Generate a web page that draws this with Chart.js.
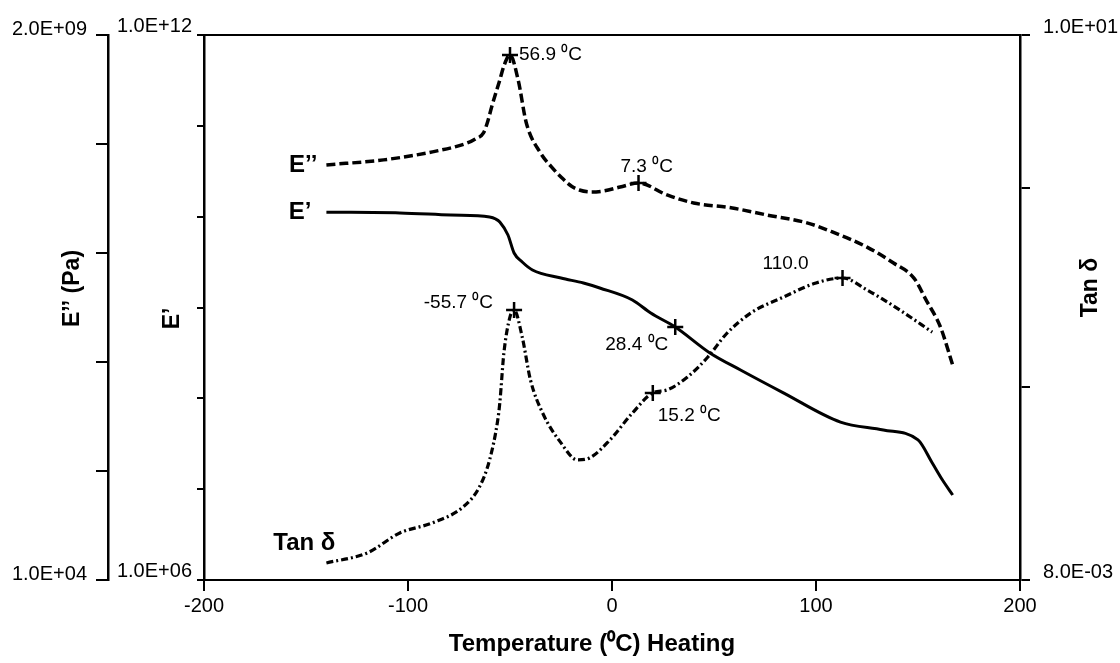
<!DOCTYPE html>
<html>
<head>
<meta charset="utf-8">
<script src="https://cdn.jsdelivr.net/npm/chart.js@4/dist/chart.umd.min.js"></script>
<style>
  html, body { margin: 0; padding: 0; background: #fff; }
  canvas { display: block; }
</style>
</head>
<body>
<canvas id="graficoDMA" width="1120" height="663"></canvas>
<script>
// === Datos (temperatura en °C) ===
// E'' (módulo de pérdida, eje exterior izquierdo)
const eppTemp = [-140, -112, -88, -71, -67, -63, -61, -59, -55, -53, -50, -46, -42, -35, -30, -25, -20, -16, -10, -4, 4, 13, 27, 40, 59, 76, 96, 108, 125, 138, 148, 154, 161, 167];
const eppVal  = [1.09e8, 1.22e8, 1.46e8, 1.78e8, 1.95e8, 2.23e8, 2.85e8, 3.99e8, 7.30e8, 1.0e9, 1.28e9, 7.30e8, 2.79e8, 1.42e8, 1.06e8, 8.32e7, 6.80e7, 6.21e7, 5.94e7, 6.08e7, 6.64e7, 7.26e7, 5.56e7, 4.65e7, 4.15e7, 3.55e7, 2.96e7, 2.43e7, 1.73e7, 1.21e7, 8.65e6, 5.28e6, 2.89e6, 1.23e6];

// E' (módulo de almacenamiento, eje interior izquierdo)
const epTemp = [-140, -104, -79, -60, -57, -55, -51, -48, -44, -39, -25, -14, -6, 10, 19, 31, 48, 63, 84, 112, 133, 150, 157, 162, 167];
const epVal  = [1.12e10, 1.10e10, 1.04e10, 9.91e9, 9.42e9, 8.73e9, 6.28e9, 3.98e9, 3.17e9, 2.59e9, 2.11e9, 1.86e9, 1.64e9, 1.21e9, 8.69e8, 6.10e8, 3.16e8, 2.05e8, 1.15e8, 5.48e7, 4.48e7, 3.48e7, 1.94e7, 1.26e7, 8.63e6];

// Tan delta (eje derecho)
const tanTemp = [-140, -120, -104, -88, -73, -65, -60, -56, -55, -53, -50, -48, -44, -40, -34, -25, -17, -11, -1, 10, 20, 27, 37, 47, 56, 68, 84, 100, 113, 125, 141, 157];
const tanVal  = [1.00e-2, 1.14e-2, 1.48e-2, 1.69e-2, 2.08e-2, 2.70e-2, 3.85e-2, 6.49e-2, 8.11e-2, 0.156, 0.250, 0.274, 0.192, 0.110, 7.11e-2, 4.81e-2, 3.85e-2, 3.95e-2, 5.00e-2, 7.11e-2, 9.25e-2, 9.62e-2, 0.114, 0.148, 0.200, 0.263, 0.324, 0.390, 0.416, 0.356, 0.274, 0.205];

// Temperaturas marcadas con "+"
const eppMarks = [-50, 13];
const epMarks  = [31];
const tanMarks = [-48, 20, 113];

// Ticks de los ejes
const xTicks = [-200, -100, 0, 100, 200];
const eppTicks = [1e4, 1.149e5, 1.32e6, 1.516e7, 1.741e8, 2e9];
const eppTickLabels = ['1.0E+04', '', '', '', '', '2.0E+09'];
const epTicks = [1e6, 1e7, 1e8, 1e9, 1e10, 1e11, 1e12];
const epTickLabels = ['1.0E+06', '', '', '', '', '', '1.0E+12'];
const tanTicks = [8e-3, 0.1, 1.35, 10];
const tanTickLabels = ['8.0E-03', '', '', '1.0E+01'];

const FUENTE = 'Arial, "Liberation Sans", sans-serif';
Chart.defaults.font.family = FUENTE;
Chart.defaults.color = '#000';

const toXY = (t, v) => t.map((x, i) => ({ x: x, y: v[i] }));
const radioMarca = marks => c => (c.raw && marks.includes(c.raw.x)) ? 8 : 0;

const series = {
  epp: { t: eppTemp, v: eppVal, eje: 'yEpp' },
  ep:  { t: epTemp,  v: epVal,  eje: 'yEp' },
  tan: { t: tanTemp, v: tanVal, eje: 'yTan' }
};

// Anotaciones de temperatura junto a las marcas
const notas = [
  { texto: '56.9 \u2070C', serie: 'epp', t: -50, dx: 9,   dy: 0,   align: 'left' },
  { texto: '7.3 \u2070C',  serie: 'epp', t: 13,  dx: -18, dy: -16, align: 'left' },
  { texto: '28.4 \u2070C', serie: 'ep',  t: 31,  dx: -7,  dy: 18,  align: 'right' },
  { texto: '-55.7 \u2070C', serie: 'tan', t: -48, dx: -21, dy: -7,  align: 'right' },
  { texto: '15.2 \u2070C', serie: 'tan', t: 20,  dx: 5,   dy: 23,  align: 'left' },
  { texto: '110.0',        serie: 'tan', t: 113, dx: -80, dy: -14, align: 'left' }
];

// Nombres de las curvas, junto al primer punto
const nombres = [
  { texto: 'E\u2019\u2019', serie: 'epp', dx: -9,  dy: 0,   align: 'right' },
  { texto: 'E\u2019',       serie: 'ep',  dx: -15, dy: 0,   align: 'right' },
  { texto: 'Tan \u03b4',    serie: 'tan', dx: 9,   dy: -20, align: 'right' }
];

const textoRotado = (ctx, texto, x, y) => {
  ctx.save();
  ctx.translate(x, y);
  ctx.rotate(-Math.PI / 2);
  ctx.fillText(texto, 0, 0);
  ctx.restore();
};

const textos = {
  id: 'textos',
  afterDatasetsDraw(chart) {
    const { ctx, scales, chartArea } = chart;
    const midY = (chartArea.top + chartArea.bottom) / 2;
    const midX = (chartArea.left + chartArea.right) / 2;
    ctx.save();
    ctx.fillStyle = '#000';
    ctx.textBaseline = 'middle';

    ctx.font = '19px ' + FUENTE;
    notas.forEach(n => {
      const s = series[n.serie];
      const i = s.t.indexOf(n.t);
      const px = scales.x.getPixelForValue(s.t[i]);
      const py = scales[s.eje].getPixelForValue(s.v[i]);
      ctx.textAlign = n.align;
      ctx.fillText(n.texto, px + n.dx, py + n.dy);
    });

    ctx.font = 'bold 24px ' + FUENTE;
    nombres.forEach(n => {
      const s = series[n.serie];
      const px = scales.x.getPixelForValue(s.t[0]);
      const py = scales[s.eje].getPixelForValue(s.v[0]);
      ctx.textAlign = n.align;
      ctx.fillText(n.texto, px + n.dx, py + n.dy);
    });

    // títulos de los ejes
    ctx.textAlign = 'center';
    ctx.font = 'bold 23px ' + FUENTE;
    textoRotado(ctx, 'E\u2019\u2019 (Pa)', scales.yEpp.left + 73, midY - 19);
    textoRotado(ctx, 'E\u2019', scales.yEp.left + 65, midY + 11);
    textoRotado(ctx, 'Tan \u03b4', scales.yTan.right - 29, midY - 20);
    ctx.font = 'bold 24px ' + FUENTE;
    ctx.fillText('Temperature (\u2070C) Heating', midX - 20, scales.x.bottom - 19);
    ctx.restore();
  }
};

const setTicks = vals => s => { s.ticks = vals.map(v => ({ value: v })); };

new Chart(document.getElementById('graficoDMA').getContext('2d'), {
  type: 'line',
  data: {
    datasets: [
      {
        label: "E''",
        data: toXY(eppTemp, eppVal),
        yAxisID: 'yEpp',
        borderColor: '#000',
        borderWidth: 3.5,
        borderDash: [9, 4],
        cubicInterpolationMode: 'monotone',
        pointStyle: 'cross',
        pointRadius: radioMarca(eppMarks),
        pointBorderColor: '#000',
        pointBorderWidth: 2.5
      },
      {
        label: "E'",
        data: toXY(epTemp, epVal),
        yAxisID: 'yEp',
        borderColor: '#000',
        borderWidth: 3,
        cubicInterpolationMode: 'monotone',
        pointStyle: 'cross',
        pointRadius: radioMarca(epMarks),
        pointBorderColor: '#000',
        pointBorderWidth: 2.5
      },
      {
        label: 'Tan \u03b4',
        data: toXY(tanTemp, tanVal),
        yAxisID: 'yTan',
        borderColor: '#000',
        borderWidth: 3.2,
        borderDash: [7, 3, 2, 3],
        cubicInterpolationMode: 'monotone',
        pointStyle: 'cross',
        pointRadius: radioMarca(tanMarks),
        pointBorderColor: '#000',
        pointBorderWidth: 2.5
      }
    ]
  },
  options: {
    responsive: false,
    animation: false,
    layout: { padding: { top: 35, right: 0, bottom: 0, left: 0 } },
    plugins: {
      legend: { display: false },
      tooltip: { enabled: false }
    },
    scales: {
      x: {
        type: 'linear',
        min: -200,
        max: 200,
        afterBuildTicks: setTicks(xTicks),
        ticks: { font: { size: 20 }, padding: 3, autoSkip: false, maxRotation: 0, callback: v => String(v) },
        grid: { drawOnChartArea: false, color: '#000', lineWidth: 2, tickLength: 11 },
        border: { color: '#000', width: 2 },
        afterFit: s => { s.height = 83; }
      },
      xTop: {
        type: 'linear',
        position: 'top',
        min: -200,
        max: 200,
        ticks: { display: false },
        grid: { display: false },
        border: { color: '#000', width: 2 },
        afterFit: s => { s.height = 0; }
      },
      yEpp: {
        type: 'logarithmic',
        position: 'left',
        weight: 10,
        min: 1e4,
        max: 2e9,
        afterBuildTicks: setTicks(eppTicks),
        ticks: { font: { size: 20 }, padding: 9, labelOffset: -6, autoSkip: false, callback: (v, i) => eppTickLabels[i] },
        grid: { drawOnChartArea: false, color: '#000', lineWidth: 2, tickLength: 12 },
        border: { color: '#000', width: 2.5 },
        afterFit: s => { s.width = 108; }
      },
      yEp: {
        type: 'logarithmic',
        position: 'left',
        weight: 0,
        min: 1e6,
        max: 1e12,
        afterBuildTicks: setTicks(epTicks),
        ticks: { font: { size: 20 }, padding: 5, labelOffset: -9, autoSkip: false, callback: (v, i) => epTickLabels[i] },
        grid: { drawOnChartArea: false, color: '#000', lineWidth: 2, tickLength: 7 },
        border: { color: '#000', width: 2.5 },
        afterFit: s => { s.width = 96; }
      },
      yTan: {
        type: 'logarithmic',
        position: 'right',
        min: 8e-3,
        max: 10,
        afterBuildTicks: setTicks(tanTicks),
        ticks: { font: { size: 20 }, padding: 13, labelOffset: -8, autoSkip: false, callback: (v, i) => tanTickLabels[i] },
        grid: { drawOnChartArea: false, color: '#000', lineWidth: 2, tickLength: 10 },
        border: { color: '#000', width: 2.5 },
        afterFit: s => { s.width = 100; }
      }
    }
  },
  plugins: [textos]
});
</script>
</body>
</html>
